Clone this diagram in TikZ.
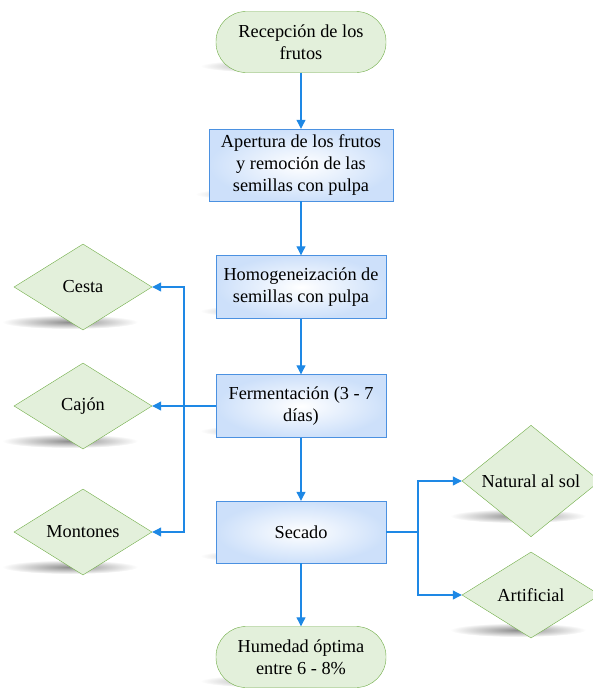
\documentclass[tikz,border=0pt]{standalone}
\usepackage{fontspec}
\setmainfont{Liberation Serif}
\usepackage{xcolor}
\usepackage{tikz}
\usetikzlibrary{arrows.meta,positioning,shapes.geometric,calc}
\definecolor{flecha}{RGB}{30,136,229}
\definecolor{bordeazul}{RGB}{75,145,225}
\definecolor{fondoazul}{RGB}{205,224,250}
\definecolor{verdeclaro}{RGB}{227,240,219}
\definecolor{verdeborde}{RGB}{112,173,71}
% sombra difusa bajo una forma
\newcommand{\sombra}[3]{%
  \shade[inner color=black!45,outer color=white]
        (#1,#2) ellipse ({#3} and 7);}
\tikzset{
  inicio/.style={draw=verdeborde,fill=verdeclaro,rounded corners=30pt,
                 minimum width=170pt,minimum height=61pt,align=center,inner sep=2pt},
  proceso/.style={draw=bordeazul,inner color=white,outer color=fondoazul,
                  minimum width=170pt,minimum height=63pt,
                  align=center,inner sep=3pt},
  opcion/.style={diamond,draw=verdeborde,fill=verdeclaro,
                 minimum width=138pt,minimum height=86pt,inner sep=0pt},
  flech/.style={flecha,line width=1.1pt,-{Triangle[length=9pt,width=9pt]}},
  linea/.style={flecha,line width=1.1pt}
}
\begin{document}
\begin{tikzpicture}[x=1pt,y=-1pt,font=\fontsize{18.3}{22}\selectfont]
  \useasboundingbox (0,0) rectangle (592,688);
  % sombras
  \sombra{285}{66}{85}
  \sombra{285}{194}{90}
  \sombra{285}{311}{85}
  \sombra{285}{431}{85}
  \sombra{285}{556}{85}
  \sombra{285}{681}{85}
  \sombra{70}{322}{68}
  \sombra{70}{441}{68}
  \sombra{70}{567}{68}
  \sombra{518}{516}{68}
  \sombra{518}{630}{68}
  % columna central
  \node[inicio] (rec) at (301,42) {Recepción de los\\frutos};
  \node[proceso,minimum width=184pt,minimum height=72pt] (ape) at (301,165)
       {Apertura de los frutos\\y remoción de las\\semillas con pulpa};
  \node[proceso] (hom) at (301,287) {Homogeneización de\\semillas con pulpa};
  \node[proceso] (fer) at (301,406) {Fermentación (3 - 7\\días)};
  \node[proceso,minimum height=62pt] (sec) at (301,532) {Secado};
  \node[inicio] (hum) at (301,657) {Humedad óptima\\entre 6 - 8\%};
  % opciones
  \node[opcion] (ces) at (83,287) {Cesta};
  \node[opcion] (caj) at (83,406) {Cajón};
  \node[opcion] (mon) at (83,532) {Montones};
  \node[opcion] (nat) at (531,481) {Natural al sol};
  \node[opcion] (art) at (531,595) {Artificial};
  \coordinate (jl) at (184,406);
  \coordinate (jr) at (418,532);
  % conectores
  \draw[flech] (rec) -- (ape);
  \draw[flech] (ape) -- (hom);
  \draw[flech] (hom) -- (fer);
  \draw[flech] (fer) -- (sec);
  \draw[flech] (sec) -- (hum);
  \draw[flech] (fer.west) -- (caj.east);
  \draw[flech] (jl) |- (ces.east);
  \draw[flech] (jl) |- (mon.east);
  \draw[linea] (sec.east) -- (jr);
  \draw[flech] (jr) |- (nat.west);
  \draw[flech] (jr) |- (art.west);
\end{tikzpicture}
\end{document}
